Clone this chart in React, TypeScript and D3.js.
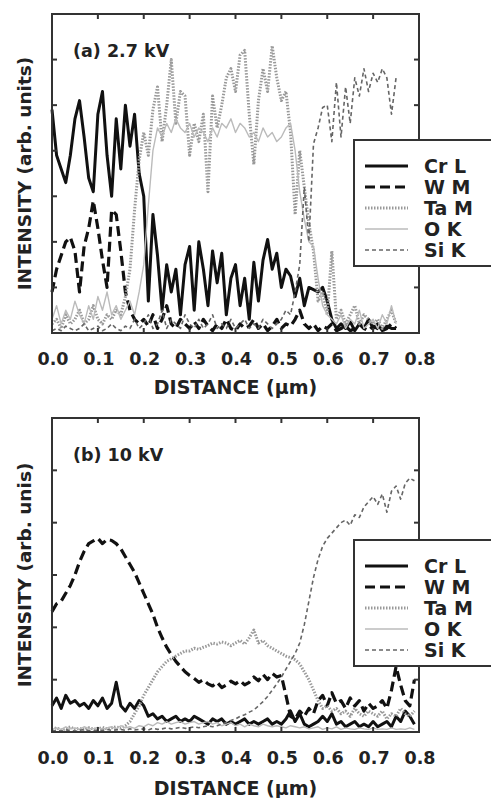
import React from "react";
import * as d3 from "d3";

// distance grid (µm), 0.01 steps
const distA = d3.range(0, 76).map((i) => i / 100);
const distB = d3.range(0, 80).map((i) => i / 100);
const xTicks = [0, 0.1, 0.2, 0.3, 0.4, 0.5, 0.6, 0.7, 0.8];
const seriesNames = ["Cr L", "W M", "Ta M", "O K", "Si K"];

// (a) 2.7 kV
const crA = [4.9, 3.9, 3.6, 3.3, 3.9, 4.7, 5.1, 4.3, 3.4, 3.1,
  4.8, 5.3, 3.9, 3.0, 4.7, 3.6, 5.0, 4.1, 4.8, 3.5,
  3.0, 0.7, 2.6, 1.7, 0.5, 1.5, 0.9, 1.4, 0.4, 1.5,
  1.9, 0.5, 2.0, 1.4, 0.6, 1.8, 1.1, 1.75, 0.4, 1.2,
  1.5, 0.6, 1.2, 0.3, 1.55, 0.7, 1.6, 2.05, 1.4, 1.75,
  1.0, 1.4, 1.25, 0.8, 1.2, 0.6, 1.0, 0.95, 0.9, 1.0,
  0.7, 0.3, 0.1, 0.2, 0.1, 0.25, 0.05, 0.2, 0.1, 0.3,
  0.1, 0.2, 0.05, 0.15, 0.1, 0.1];
const wmA = [0.9, 1.4, 1.7, 2.0, 2.1, 1.8, 0.9, 1.9, 2.3, 2.9,
  2.3, 1.6, 1.0, 2.7, 2.6, 1.8, 0.9, 0.5, 0.3, 0.2,
  0.3, 0.15, 0.4, 0.1, 0.3, 0.6, 0.2, 0.1, 0.3, 0.2,
  0.1, 0.25, 0.1, 0.3, 0.15, 0.05, 0.2, 0.1, 0.3, 0.1,
  0.05, 0.2, 0.1, 0.15, 0.3, 0.1, 0.2, 0.05, 0.15, 0.3,
  0.1, 0.2, 0.15, 0.3, 0.5, 0.2, 0.1, 0.2, 0.05, 0.15,
  0.1, 0.2, 0.05, 0.1, 0.15, 0.05, 0.1, 0.2, 0.1, 0.05,
  0.15, 0.1, 0.05, 0.1, 0.2, 0.1];
const taA = [0.2, 0.3, 0.1, 0.4, 0.2, 0.3, 0.5, 0.2, 0.3, 0.6,
  0.3, 0.2, 0.4, 0.3, 0.5, 0.4, 0.8, 1.4, 2.7, 3.8,
  4.4, 3.9, 4.9, 5.4, 4.2, 5.0, 6.0, 4.6, 5.3, 5.2,
  3.9, 4.6, 4.2, 4.8, 3.1, 5.2, 4.5, 5.0, 5.6, 5.8,
  5.3, 6.1, 6.2, 4.8, 3.7, 5.1, 5.8, 5.3, 6.3, 5.6,
  5.1, 5.3, 4.4, 2.6, 4.0, 3.2, 2.4, 1.8, 0.7, 0.9,
  0.4, 1.8, 0.3, 0.5, 0.2, 0.4, 0.6, 0.2, 0.4, 0.3,
  0.2, 0.3, 0.1, 0.3, 0.5, 0.2];
const okA = [0.3, 0.6, 0.2, 0.5, 0.3, 0.7, 0.4, 0.2, 0.6, 0.3,
  0.8, 0.5, 0.9, 0.4, 0.6, 0.3, 0.5, 0.7, 0.4, 0.9,
  1.5, 2.8, 4.0, 4.5, 4.3, 4.6, 4.4, 4.7, 4.5, 4.4,
  4.6, 4.3, 4.5, 4.4, 4.2, 4.5, 4.3, 4.6, 4.5, 4.7,
  4.4, 4.6, 4.5, 4.3, 4.4, 4.2, 4.5, 4.3, 4.4, 4.2,
  4.3, 4.5, 4.6, 4.0, 3.1, 2.5, 2.0, 1.9, 1.2, 0.6,
  0.4, 0.3, 0.2, 0.4, 0.1, 0.3, 0.2, 0.5, 0.1, 0.2,
  0.3, 0.1, 0.4, 0.2, 0.6, 0.2];
const siA = [0.05, 0.1, 0.05, 0.15, 0.1, 0.05, 0.1, 0.2, 0.05, 0.1,
  0.15, 0.05, 0.1, 0.2, 0.1, 0.05, 0.15, 0.1, 0.3, 0.1,
  0.2, 0.4, 0.1, 0.2, 0.5, 0.1, 0.3, 0.2, 0.1, 0.4,
  0.2, 0.1, 0.3, 0.1, 0.2, 0.4, 0.1, 0.2, 0.1, 0.3,
  0.1, 0.2, 0.3, 0.1, 0.2, 0.1, 0.3, 0.2, 0.1, 0.2,
  0.3, 0.5, 0.4, 0.9, 1.5, 3.2, 2.0, 4.15, 4.5, 4.95,
  5.0, 4.2, 5.5, 4.3, 5.4, 4.6, 5.6, 5.2, 5.8, 5.3,
  5.7, 5.5, 5.8, 5.6, 4.8, 5.6];

// (b) 10 kV
const crB = [0.5, 0.65, 0.45, 0.7, 0.55, 0.6, 0.5, 0.55, 0.45, 0.6,
  0.5, 0.65, 0.45, 0.55, 0.95, 0.5, 0.4, 0.55, 0.45, 0.6,
  0.5, 0.3, 0.35, 0.25, 0.3, 0.2, 0.25, 0.3, 0.2, 0.25,
  0.2, 0.3, 0.25, 0.2, 0.15, 0.25, 0.2, 0.25, 0.15, 0.2,
  0.15, 0.2, 0.25, 0.15, 0.2, 0.15, 0.2, 0.25, 0.15, 0.2,
  0.15, 0.25, 0.4, 0.2, 0.35, 0.15, 0.1, 0.15, 0.2, 0.3,
  0.2, 0.35, 0.15, 0.2, 0.1, 0.15, 0.2, 0.1, 0.15, 0.1,
  0.2, 0.1, 0.15, 0.2, 0.1, 0.3, 0.2, 0.4, 0.3, 0.15];
const wmB = [2.3, 2.45, 2.5, 2.65, 2.8, 3.0, 3.25, 3.45, 3.6, 3.65,
  3.7, 3.6, 3.68, 3.66, 3.6, 3.5, 3.35, 3.2, 3.05, 2.85,
  2.65, 2.45, 2.25, 2.0, 1.8, 1.62, 1.48, 1.35, 1.25, 1.15,
  1.08, 1.02, 0.95, 1.0, 0.92, 0.88, 0.95, 0.85, 0.9, 0.97,
  0.92, 0.98, 0.9, 0.95, 1.05, 0.98, 1.1, 1.0, 1.12, 1.05,
  1.08, 0.7, 0.3, 0.25, 0.4, 0.3, 0.45, 0.35, 0.6, 0.7,
  0.5, 0.75, 0.55, 0.6, 0.45, 0.65, 0.5, 0.6, 0.4, 0.55,
  0.45, 0.5, 0.6, 0.45, 0.8, 1.25, 0.9, 0.6, 0.5, 1.0];
const taB = [0.05, 0.08, 0.04, 0.06, 0.1, 0.05, 0.07, 0.04, 0.08, 0.06,
  0.05, 0.09, 0.06, 0.08, 0.1, 0.07, 0.12, 0.2, 0.35, 0.5,
  0.7, 0.85, 1.0, 1.15, 1.25, 1.35, 1.4, 1.45, 1.5, 1.55,
  1.55, 1.6, 1.58, 1.62, 1.65, 1.7, 1.68, 1.72, 1.7, 1.65,
  1.7, 1.75, 1.68, 1.8, 1.95, 1.7, 1.75, 1.65, 1.6, 1.55,
  1.5, 1.45, 1.42, 1.38, 1.3, 1.15, 1.0, 0.8, 0.6, 0.45,
  0.5, 0.4, 0.45, 0.35, 0.4, 0.3, 0.45, 0.35, 0.3, 0.4,
  0.35, 0.3, 0.4, 0.25, 0.35, 0.3, 0.45, 0.35, 0.3, 0.4];
const okB = [0.05, 0.08, 0.05, 0.1, 0.06, 0.08, 0.05, 0.1, 0.07, 0.06,
  0.09, 0.05, 0.08, 0.1, 0.06, 0.12, 0.08, 0.1, 0.07, 0.12,
  0.1, 0.15, 0.12, 0.18, 0.15, 0.2, 0.15, 0.18, 0.2, 0.15,
  0.18, 0.2, 0.15, 0.18, 0.2, 0.15, 0.18, 0.12, 0.15, 0.18,
  0.12, 0.15, 0.1, 0.15, 0.12, 0.1, 0.15, 0.12, 0.1, 0.12,
  0.1, 0.08, 0.12, 0.1, 0.08, 0.1, 0.06, 0.08, 0.1, 0.05,
  0.08, 0.06, 0.1, 0.05, 0.08, 0.06, 0.05, 0.08, 0.06, 0.05,
  0.08, 0.05, 0.06, 0.05, 0.08, 0.05, 0.06, 0.05, 0.08, 0.05];
const siB = [0.02, 0.03, 0.02, 0.04, 0.03, 0.02, 0.03, 0.05, 0.03, 0.02,
  0.04, 0.03, 0.05, 0.03, 0.04, 0.05, 0.03, 0.06, 0.04, 0.05,
  0.06, 0.04, 0.07, 0.05, 0.06, 0.08, 0.06, 0.07, 0.09, 0.07,
  0.08, 0.1, 0.08, 0.1, 0.12, 0.1, 0.12, 0.15, 0.18, 0.22,
  0.25, 0.3, 0.33, 0.38, 0.42, 0.5, 0.58, 0.68, 0.8, 0.92,
  1.05, 1.2, 1.35, 1.5, 1.7, 2.05, 2.5, 2.95, 3.3, 3.55,
  3.7, 3.8, 3.9, 4.0, 4.05, 3.95, 4.15, 4.1, 4.3, 4.4,
  4.5, 4.35, 4.55, 4.2, 4.6, 4.7, 4.45, 4.75, 4.85, 4.8];

// line styles in legend order
const styles = [
  { stroke: "#111", width: 3, dash: null },
  { stroke: "#111", width: 3.2, dash: "10,5" },
  { stroke: "#999", width: 3, dash: "1.5,1.5" },
  { stroke: "#bbb", width: 1.4, dash: null },
  { stroke: "#666", width: 1.6, dash: "4,3" },
];

const font = "'DejaVu Sans', sans-serif";
const ink = "#222";

function Panel({ top, bottom, yMax, dist, series, title, yLabel, legendTop, tickBase, titleBase }) {
  const x = d3.scaleLinear().domain([0, 0.8]).range([52, 419]);
  const y = d3.scaleLinear().domain([0, yMax]).range([bottom, top]);
  const line = d3.line<number>().x((_, i) => x(dist[i])).y((d) => y(d));
  const yTicks = d3.range(1, yMax);

  return (
    <g>
      {series.map((s, i) => (
        <path key={i} d={line(s) || ""} fill="none" stroke={styles[i].stroke}
          strokeWidth={styles[i].width} strokeDasharray={styles[i].dash || undefined}
          strokeLinejoin="round" />
      ))}
      <rect x={x(0)} y={top} width={x(0.8) - x(0)} height={bottom - top}
        fill="none" stroke="#333" strokeWidth={2} />
      {xTicks.slice(1, -1).map((t) => (
        <g key={"xt" + t}>
          <line x1={x(t)} x2={x(t)} y1={top} y2={top + 5} stroke="#333" strokeWidth={2} />
          <line x1={x(t)} x2={x(t)} y1={bottom} y2={bottom - 5} stroke="#333" strokeWidth={2} />
        </g>
      ))}
      {yTicks.map((t) => (
        <g key={"yt" + t}>
          <line x1={x(0)} x2={x(0) + 5} y1={y(t)} y2={y(t)} stroke="#333" strokeWidth={2} />
          <line x1={x(0.8)} x2={x(0.8) - 5} y1={y(t)} y2={y(t)} stroke="#333" strokeWidth={2} />
        </g>
      ))}
      {xTicks.map((t) => (
        <text key={"xl" + t} x={x(t) + 1} y={tickBase} textAnchor="middle"
          fontFamily={font} fontWeight="bold" fontSize={17.5} fill={ink}>
          {t.toFixed(1)}
        </text>
      ))}
      <text x={(x(0) + x(0.8)) / 2} y={titleBase} textAnchor="middle"
        fontFamily={font} fontWeight="bold" fontSize={19} fill={ink}>
        DISTANCE (µm)
      </text>
      <text transform={`translate(31,${(top + bottom) / 2}) rotate(-90)`} textAnchor="middle"
        fontFamily={font} fontWeight="bold" fontSize={18.5} fill={ink}>
        {yLabel}
      </text>
      <text x={73} y={top + 43} fontFamily={font} fontWeight="bold" fontSize={17.5} fill={ink}>
        {title}
      </text>
      <rect x={354} y={legendTop} width={160} height={126} fill="#fff" stroke="#333" strokeWidth={2} />
      {seriesNames.map((n, i) => {
        const ry = legendTop + 26 + i * 21;
        return (
          <g key={n}>
            <line x1={365} x2={408} y1={ry} y2={ry} stroke={styles[i].stroke}
              strokeWidth={styles[i].width} strokeDasharray={styles[i].dash || undefined} />
            <text x={424} y={ry + 7} fontFamily={font} fontWeight="bold" fontSize={19} fill={ink}>
              {n}
            </text>
          </g>
        );
      })}
    </g>
  );
}

export default function App() {
  return (
    <svg width={491} height={798} style={{ position: "absolute", left: 0, top: 0, background: "#fff" }}>
      <Panel top={14} bottom={333} yMax={7} dist={distA}
        series={[crA, wmA, taA, okA, siA]} title="(a) 2.7 kV"
        yLabel="INTENSITY (arb. units)" legendTop={140} tickBase={365} titleBase={394} />
      <Panel top={418} bottom={732} yMax={6} dist={distB}
        series={[crB, wmB, taB, okB, siB]} title="(b) 10 kV"
        yLabel="INTENSITY (arb. unis)" legendTop={540} tickBase={764} titleBase={795} />
    </svg>
  );
}
